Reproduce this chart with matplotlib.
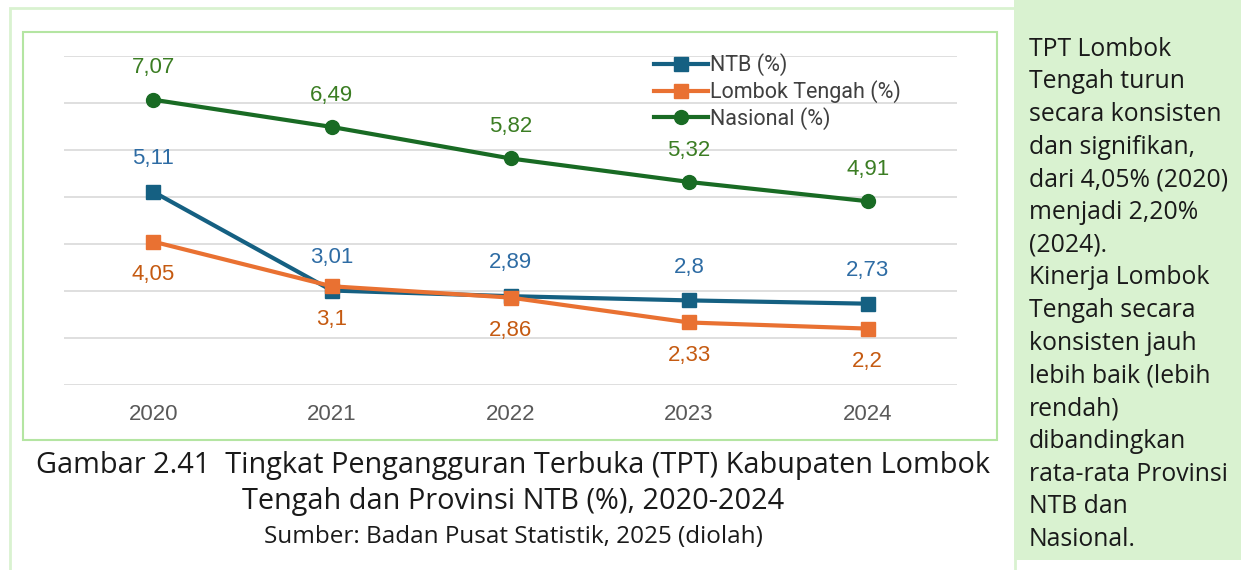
import matplotlib.pyplot as plt
from matplotlib.patches import Rectangle

tahun = ["2020", "2021", "2022", "2023", "2024"]
ntb = [5.11, 3.01, 2.89, 2.80, 2.73]
lombok_tengah = [4.05, 3.10, 2.86, 2.33, 2.20]
nasional = [7.07, 6.49, 5.82, 5.32, 4.91]

ntb_lbl = ["5,11", "3,01", "2,89", "2,8", "2,73"]
lt_lbl = ["4,05", "3,1", "2,86", "2,33", "2,2"]
nas_lbl = ["7,07", "6,49", "5,82", "5,32", "4,91"]

catatan = ["TPT Lombok", "Tengah turun", "secara konsisten", "dan signifikan,",
           "dari 4,05% (2020)", "menjadi 2,20%", "(2024).", "Kinerja Lombok",
           "Tengah secara", "konsisten jauh", "lebih baik (lebih", "rendah)",
           "dibandingkan", "rata-rata Provinsi", "NTB dan", "Nasional."]

W, H = 1241, 570
fig = plt.figure(figsize=(W / 100, H / 100), dpi=100)

def fx(px):
    return px / W

def fy(py):
    return 1 - py / H

# frames and side panel
fig.add_artist(Rectangle((fx(10), fy(575)), fx(1005), 567 / H, transform=fig.transFigure,
                         fill=False, ec="#d9f2d0", lw=2))
fig.add_artist(Rectangle((fx(23), fy(440)), fx(974), 408 / H, transform=fig.transFigure,
                         fill=False, ec="#b4e5a2", lw=1.5))
fig.add_artist(Rectangle((fx(1014), fy(560)), fx(227), 560 / H, transform=fig.transFigure,
                         fc="#d9f2d0", ec="none"))

ax = fig.add_axes([fx(64), fy(385), fx(957 - 64), (385 - 56) / H])
x = range(len(tahun))
ax.plot(x, ntb, color="#156082", lw=3, marker="s", ms=10, label="NTB (%)", zorder=3)
ax.plot(x, lombok_tengah, color="#e97132", lw=3, marker="s", ms=10, label="Lombok Tengah (%)", zorder=4)
ax.plot(x, nasional, color="#196b24", lw=3, marker="o", ms=10, label="Nasional (%)", zorder=3)

ax.set_xlim(-0.5, 4.5)
ax.set_ylim(1, 8)
ax.set_yticks(range(1, 9))
ax.grid(axis="y", color="#d9d9d9", lw=1.2)
ax.set_axisbelow(True)
for s in ax.spines.values():
    s.set_visible(False)
ax.tick_params(length=0, labelleft=False)
ax.set_xticks(list(x))
ax.set_xticklabels(tahun, fontsize=16, color="#595959", family="Liberation Sans")
ax.tick_params(axis="x", pad=14)

for i in x:
    ax.annotate(nas_lbl[i], (i, nasional[i]), xytext=(0, 23), textcoords="offset points",
                ha="center", va="center", fontsize=16, color="#3b7d23", family="Liberation Sans")
    ax.annotate(ntb_lbl[i], (i, ntb[i]), xytext=(0, 24), textcoords="offset points",
                ha="center", va="center", fontsize=16, color="#2e6ca4", family="Liberation Sans")
    ax.annotate(lt_lbl[i], (i, lombok_tengah[i]), xytext=(0, -24), textcoords="offset points",
                ha="center", va="center", fontsize=16, color="#c55a11", family="Liberation Sans")

fig.legend(loc="upper left", bbox_to_anchor=(fx(635), fy(34)), frameon=False,
           handlelength=2.5, handletextpad=0.1, labelspacing=0.18,
           labelcolor="#404040", prop={"family": "Roboto", "size": 15.5})

fig.text(fx(513), fy(465), "Gambar 2.41  Tingkat Pengangguran Terbuka (TPT) Kabupaten Lombok",
         ha="center", va="center", fontsize=20.8, family="Open Sans", color="#1a1a1a")
fig.text(fx(513), fy(501), "Tengah dan Provinsi NTB (%), 2020-2024",
         ha="center", va="center", fontsize=20.8, family="Open Sans", color="#1a1a1a")
fig.text(fx(513), fy(537), "Sumber: Badan Pusat Statistik, 2025 (diolah)",
         ha="center", va="center", fontsize=17.5, family="Open Sans", color="#1a1a1a")

for k, baris in enumerate(catatan):
    fig.text(fx(1029), fy(49 + k * 32.7), baris, ha="left", va="center",
             fontsize=17.8, family="Open Sans", color="#1a1a1a")

fig.savefig("out.png", dpi=100)
